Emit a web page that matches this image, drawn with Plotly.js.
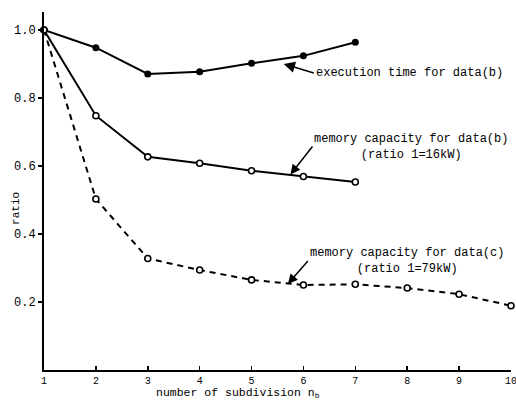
<!DOCTYPE html>
<html><head><meta charset="utf-8">
<script src="https://cdn.plot.ly/plotly-3.0.1.min.js"></script>
<style>body{margin:0;background:#fff}#c{width:516px;height:400px}</style>
</head><body><div id="c"></div>
<script>
const nSub = [1,2,3,4,5,6,7,8,9,10];
const execTimeB = [1.0,0.948,0.871,0.877,0.902,0.924,0.964];
const memoryB = [1.0,0.748,0.627,0.608,0.586,0.569,0.553];
const memoryC = [1.0,0.503,0.328,0.294,0.265,0.25,0.252,0.241,0.223,0.189];
const yTicks = [0.2,0.4,0.6,0.8,1.0];
const yTickText = ['0.2','0.4','0.6','0.8','1.0'];

const F = 'Liberation Mono, Courier New, monospace';
const traces = [
 {x:nSub.slice(0,execTimeB.length), y:execTimeB, mode:'lines+markers', name:'execution time for data(b)',
  line:{color:'#000',width:2}, marker:{color:'#000',size:7,symbol:'circle'}, cliponaxis:false},
 {x:nSub.slice(0,memoryB.length), y:memoryB, mode:'lines+markers', name:'memory capacity for data(b)',
  line:{color:'#000',width:2}, marker:{color:'#fff',size:6,symbol:'circle',line:{color:'#000',width:1.6}}, cliponaxis:false},
 {x:nSub, y:memoryC, mode:'lines+markers', name:'memory capacity for data(c)',
  line:{color:'#000',width:2,dash:'6px,5px'}, marker:{color:'#fff',size:6,symbol:'circle',line:{color:'#000',width:1.6}}, cliponaxis:false}
];
const layout = {
 width:516, height:400, showlegend:false,
 paper_bgcolor:'#fff', plot_bgcolor:'#fff',
 margin:{l:44,r:5,t:12,b:30},
 font:{family:F,size:12,color:'#000'},
 xaxis:{range:[1,10], tickvals:nSub, ticks:'inside', ticklen:4, tickwidth:1.5, tickcolor:'#000', ticklabeloverflow:'allow',
   showline:true, linecolor:'#000', linewidth:2, showgrid:false, zeroline:false, tickfont:{family:F,size:10}},
 yaxis:{range:[0,1.053], tickvals:yTicks, ticktext:yTickText, ticks:'outside', ticklen:4, tickwidth:1.5, tickcolor:'#000',
   showline:true, linecolor:'#000', linewidth:2, showgrid:false, zeroline:false, tickfont:{family:F,size:12}},
 annotations:[
  {xref:'paper',yref:'paper',x:0,xshift:-36,y:0.45,text:'ratio',textangle:-90,showarrow:false,font:{family:F,size:11}},
  {xref:'paper',yref:'paper',x:0.415,y:0,yshift:-23,yanchor:'middle',text:'number of subdivision n<sub>b</sub>',showarrow:false,font:{family:F,size:11.5}},
  {x:5.62,y:0.9,text:'execution time for data(b)',showarrow:true,arrowhead:2,arrowsize:1.4,arrowwidth:1.6,arrowcolor:'#000',
   ax:30,ay:9,xanchor:'left',font:{family:F,size:12}},
  {x:5.75,y:0.575,text:'memory capacity for data(b)<br>(ratio 1=16kW)',align:'center',showarrow:true,arrowhead:2,arrowsize:1.3,arrowwidth:1.5,arrowcolor:'#000',
   ax:22,ay:-28,xanchor:'left',yanchor:'middle',font:{family:F,size:12}},
  {x:5.7,y:0.253,text:'memory capacity for data(c)<br>(ratio 1=79kW)',align:'center',showarrow:true,arrowhead:2,arrowsize:1.3,arrowwidth:1.5,arrowcolor:'#000',
   ax:20,ay:-23,xanchor:'left',yanchor:'middle',font:{family:F,size:12}}
 ]
};
Plotly.newPlot('c', traces, layout, {displayModeBar:false, staticPlot:true});
</script></body></html>
